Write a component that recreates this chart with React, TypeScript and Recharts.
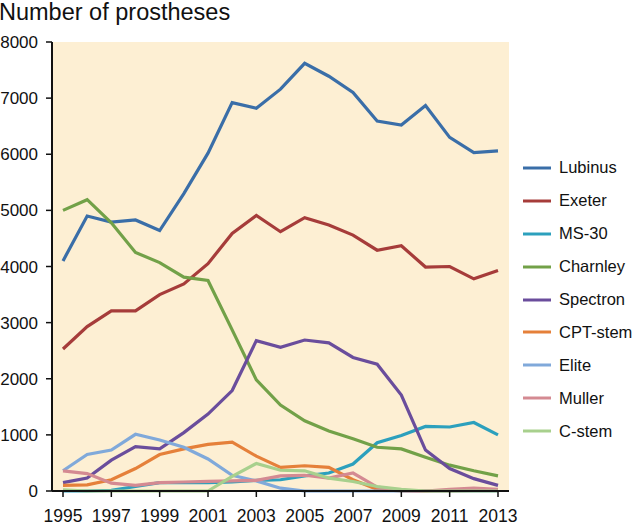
import React from 'react';
import {
  LineChart,
  Line,
  XAxis,
  YAxis,
  CartesianGrid,
  Legend,
} from 'recharts';

const years = [
  1995, 1996, 1997, 1998, 1999, 2000, 2001, 2002, 2003, 2004,
  2005, 2006, 2007, 2008, 2009, 2010, 2011, 2012, 2013,
];

const lubinus = [4100, 4900, 4790, 4830, 4640, 5300, 6020, 6920, 6820, 7160, 7620, 7390, 7100, 6590, 6520, 6870, 6300, 6030, 6060];
const exeter = [2530, 2930, 3210, 3210, 3500, 3690, 4050, 4590, 4910, 4620, 4870, 4740, 4560, 4290, 4370, 3990, 4000, 3780, 3930];
const ms30 = [0, 0, 10, 80, 150, 150, 150, 160, 190, 200, 270, 320, 480, 860, 990, 1150, 1140, 1220, 1000];
const charnley = [5000, 5190, 4780, 4250, 4070, 3810, 3750, 2870, 1980, 1530, 1250, 1070, 930, 780, 750, 600, 460, 360, 270];
const spectron = [150, 230, 550, 790, 750, 1040, 1370, 1790, 2680, 2560, 2690, 2640, 2380, 2260, 1710, 730, 400, 220, 100];
const cptStem = [100, 110, 200, 400, 650, 750, 830, 870, 620, 420, 450, 420, 200, 30, 0, 0, 0, 10, 10];
const elite = [360, 650, 730, 1010, 910, 780, 570, 280, 180, 50, 0, 0, 0, 0, 0, 0, 0, 0, 0];
const muller = [360, 310, 140, 100, 150, 160, 170, 180, 190, 270, 280, 230, 320, 70, 10, 0, 30, 50, 30];
const cStem = [20, 0, 0, 0, 0, 0, 0, 260, 490, 370, 360, 230, 170, 80, 30, 0, 0, 0, 0];

const xTicks = [1995, 1997, 1999, 2001, 2003, 2005, 2007, 2009, 2011, 2013];
const yTicks = [0, 1000, 2000, 3000, 4000, 5000, 6000, 7000, 8000];

const series = [
  { key: 'Lubinus', values: lubinus, color: '#3a6ea8' },
  { key: 'Exeter', values: exeter, color: '#a63c3a' },
  { key: 'MS-30', values: ms30, color: '#2ca0bd' },
  { key: 'Charnley', values: charnley, color: '#72a148' },
  { key: 'Spectron', values: spectron, color: '#6a4d9c' },
  { key: 'CPT-stem', values: cptStem, color: '#e5803a' },
  { key: 'Elite', values: elite, color: '#80a9da' },
  { key: 'Muller', values: muller, color: '#d48a92' },
  { key: 'C-stem', values: cStem, color: '#a8d08d' },
];

const data = years.map((year, i) => {
  const row: Record<string, number> = { year };
  series.forEach((s) => {
    row[s.key] = s.values[i];
  });
  return row;
});

const FONT = '"Liberation Sans", Arial, Helvetica, sans-serif';

function LegendBox() {
  return (
    <div style={{ fontFamily: FONT, fontSize: 16.5, color: '#111' }}>
      {series.map((s) => (
        <div key={s.key} style={{ display: 'flex', alignItems: 'center', height: 32.9, whiteSpace: 'nowrap' }}>
          <svg width={28} height={4} style={{ marginRight: 8 }}>
            <line x1={0} y1={2} x2={28} y2={2} stroke={s.color} strokeWidth={3} />
          </svg>
          <span>{s.key}</span>
        </div>
      ))}
    </div>
  );
}

export default function App() {
  return (
    <div style={{ position: 'absolute', left: 0, top: 0, width: 633, height: 525, background: '#fff' }}>
      <div
        style={{
          position: 'absolute',
          left: -1,
          top: -1,
          fontFamily: FONT,
          fontSize: 23.5,
          lineHeight: '27px',
          color: '#111',
          whiteSpace: 'nowrap',
        }}
      >
        Number of prostheses
      </div>
      <LineChart
        width={633}
        height={525}
        data={data}
        margin={{ top: 42, right: 124, bottom: 0, left: 0 }}
      >
        <CartesianGrid horizontal={false} vertical={false} fill="#fdefd3" />
        <XAxis
          dataKey="year"
          type="number"
          domain={[1995, 2013]}
          ticks={xTicks}
          padding={{ left: 11, right: 11 }}
          height={34}
          tickSize={6}
          tickMargin={13}
          axisLine={{ stroke: '#111', strokeWidth: 2 }}
          tickLine={{ stroke: '#111', strokeWidth: 1.5 }}
          tick={{ fill: '#111', fontSize: 17.5, fontFamily: FONT }}
        />
        <XAxis
          xAxisId="top"
          orientation="top"
          type="number"
          domain={[0, 1]}
          height={0}
          tick={false}
          tickLine={false}
          axisLine={{ stroke: '#a8a8a8', strokeWidth: 1.5 }}
        />
        <YAxis
          domain={[0, 8000]}
          ticks={yTicks}
          width={52}
          tickSize={6}
          tickMargin={8}
          axisLine={{ stroke: '#111', strokeWidth: 2 }}
          tickLine={{ stroke: '#111', strokeWidth: 1.5 }}
          tick={{ fill: '#111', fontSize: 17, fontFamily: FONT }}
        />
        <YAxis
          yAxisId="right"
          orientation="right"
          type="number"
          domain={[0, 1]}
          width={0}
          tick={false}
          tickLine={false}
          axisLine={{ stroke: '#b0b0b8', strokeWidth: 1.5 }}
        />
        <Legend
          layout="vertical"
          align="center"
          verticalAlign="middle"
          wrapperStyle={{ left: 523, top: 151.5, width: 110 }}
          content={() => <LegendBox />}
        />
        {series.map((s) => (
          <Line
            key={s.key}
            type="linear"
            dataKey={s.key}
            stroke={s.color}
            strokeWidth={3.2}
            dot={false}
            isAnimationActive={false}
          />
        ))}
      </LineChart>
    </div>
  );
}
